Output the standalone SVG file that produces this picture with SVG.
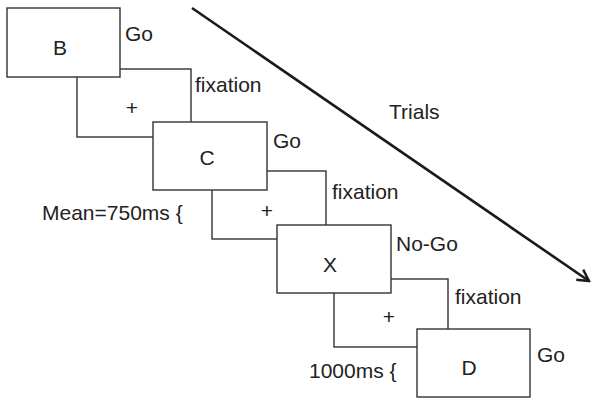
<svg xmlns="http://www.w3.org/2000/svg" width="592" height="401" viewBox="0 0 592 401">
<defs>
<style>
.box{fill:#fff;stroke:#333;stroke-width:1.4}
.fix{fill:none;stroke:#333;stroke-width:1.4}
text{font-family:"Liberation Sans",Arial,sans-serif;font-size:21px;fill:#222}
.c{text-anchor:middle}
</style>
<marker id="arr" viewBox="0 0 14 14" refX="12" refY="7" markerWidth="5.5" markerHeight="5.5" markerUnits="strokeWidth" orient="auto">
<path d="M1,1 L12,7 L1,13" fill="none" stroke="#1a1a1a" stroke-width="2.4"/>
</marker>
</defs>
<g id="connectors">
<line x1="192" y1="8" x2="589" y2="281" stroke="#1a1a1a" stroke-width="2.6" marker-end="url(#arr)"/>
</g>
<g id="fix1"><rect class="fix" x="77" y="69" width="114" height="68"/><text class="c" x="132" y="115">+</text><text x="195" y="92">fixation</text></g>
<g id="fix2"><rect class="fix" x="212" y="171" width="114" height="68"/><text class="c" x="267" y="218">+</text><text x="332" y="199">fixation</text></g>
<g id="fix3"><rect class="fix" x="334" y="279" width="114" height="68"/><text class="c" x="389" y="324">+</text><text x="455" y="304">fixation</text></g>
<g id="B"><rect class="box" x="7" y="8" width="113" height="69"/><text class="c" x="60" y="55">B</text><text x="125" y="41">Go</text></g>
<g id="C"><rect class="box" x="153" y="122" width="114" height="68"/><text class="c" x="207" y="165">C</text><text x="273" y="148">Go</text></g>
<g id="X"><rect class="box" x="277" y="225" width="114" height="68"/><text class="c" x="330" y="272">X</text><text x="396" y="251">No-Go</text></g>
<g id="D"><rect class="box" x="417" y="329" width="113" height="68"/><text class="c" x="469" y="375">D</text><text x="537" y="362">Go</text></g>
<g id="labels">
<text x="389" y="119">Trials</text>
<text x="42" y="220">Mean=750ms {</text>
<text x="309" y="378">1000ms {</text>
</g>
</svg>
